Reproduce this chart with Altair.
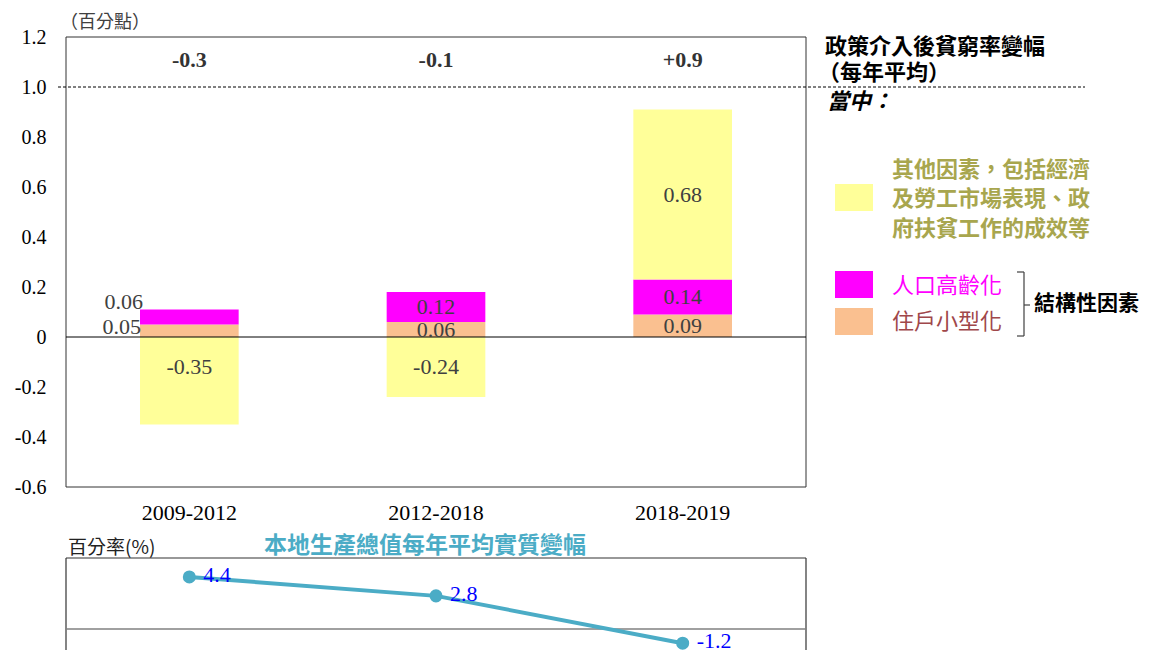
import altair as alt
import pandas as pd

# ---------------- data ----------------
periods = ["2009-2012", "2012-2018", "2018-2019"]
household = [0.05, 0.06, 0.09]      # 住戶小型化
ageing = [0.06, 0.12, 0.14]         # 人口高齡化
other = [-0.35, -0.24, 0.68]        # 其他因素
totals = ["-0.3", "-0.1", "+0.9"]
gdp = [4.4, 2.8, -1.2]
gdp_labels = ["4.4", "2.8", "-1.2"]
components = ["住戶小型化", "人口高齡化", "其他因素"]
colors = ["#FAC090", "#FF00FF", "#FFFF99"]
y_ticks = [-0.6, -0.4, -0.2, 0, 0.2, 0.4, 0.6, 0.8, 1.0, 1.2]

rows = []
for i, p in enumerate(periods):
    for j, vals in enumerate([household, ageing, other]):
        rows.append({"period": p, "comp": components[j], "ord": j,
                     "value": vals[i], "label": f"{vals[i]:.2f}"})
df = pd.DataFrame(rows)
df_tot = pd.DataFrame({"period": periods, "total": totals})
df_gdp = pd.DataFrame({"period": periods, "gdp": gdp, "label": gdp_labels})
one = pd.DataFrame({"a": [0]})

SERIF = "Liberation Serif"
CJK = "Noto Sans CJK TC"

x_scale = alt.Scale(domain=periods, paddingInner=0.6, paddingOuter=0.3)
main_y = alt.Scale(domain=[-0.6, 1.2], range=[450, 0], nice=False, zero=False)
gdp_y = alt.Scale(domain=[-6, 6], range=[663, 521], nice=False, zero=False)
color_scale = alt.Scale(domain=components, range=colors)
X = alt.X("period:N", scale=x_scale, axis=None)
XL = alt.X("period:N", scale=x_scale, axis=None, bandPosition=0)
YM = alt.Y("mid:Q", scale=main_y, axis=None)

base = alt.Chart(df).transform_stack(
    stack="value", groupby=["period"], as_=["v0", "v1"],
    sort=[alt.SortField("ord", order="ascending")]
).transform_calculate(mid="(datum.v0 + datum.v1) / 2")

frame = alt.Chart(one).mark_rect(fill="transparent", stroke="#333333", strokeWidth=1).encode(
    x=alt.value(0), x2=alt.value(740), y=alt.value(0), y2=alt.value(450))

bars = base.mark_bar().encode(
    x=X,
    y=alt.Y("v0:Q", scale=main_y, title=None,
            axis=alt.Axis(values=y_ticks, domain=False, ticks=False, grid=False,
                          labelPadding=20, labelFont=SERIF, labelFontSize=20,
                          labelColor="#000000",
                          labelExpr="datum.value == 0 ? '0' : (datum.value < 0 ? '-' + format(-datum.value, '.1f') : format(datum.value, '.1f'))")),
    y2="v1:Q",
    color=alt.Color("comp:N", scale=color_scale, legend=None),
)

seg_txt = dict(font=SERIF, fontSize=22, color="#404040", baseline="middle")
seg_labels = base.mark_text(**seg_txt).encode(
    x=X, y=YM, text="label:N"
).transform_filter("datum.period != '2009-2012'")
lab_hh = base.mark_text(align="right", dy=-4, dx=1, **seg_txt).encode(
    x=XL, y=YM, text="label:N"
).transform_filter("datum.period == '2009-2012' && datum.ord == 0")
lab_ag = base.mark_text(align="right", dy=-15, dx=3, **seg_txt).encode(
    x=XL, y=YM, text="label:N"
).transform_filter("datum.period == '2009-2012' && datum.ord == 1")
lab_ot = base.mark_text(dy=-14, **seg_txt).encode(
    x=X, y=YM, text="label:N"
).transform_filter("datum.period == '2009-2012' && datum.ord == 2")

zero_line = alt.Chart(one).mark_rule(color="#000000", strokeWidth=1).encode(
    x=alt.value(0), x2=alt.value(740), y=alt.YDatum(0, scale=main_y, axis=None))
dash_line = alt.Chart(one).mark_rule(color="#000000", strokeWidth=1, strokeDash=[3, 2]).encode(
    x=alt.value(-8), x2=alt.value(1019), y=alt.YDatum(1.0, scale=main_y, axis=None))

tot_text = alt.Chart(df_tot).mark_text(font=SERIF, fontSize=22, fontWeight="bold",
                                       color="#333333", baseline="middle").encode(
    x=X, y=alt.value(23), text="total:N")
xlab = alt.Chart(df_tot).mark_text(font=SERIF, fontSize=22, color="#000000",
                                   baseline="middle").encode(
    x=X, y=alt.value(476), text="period:N")


def txt(s, x, y, size=22, color="#000000", weight="normal", align="left",
        font=CJK, style="normal"):
    return alt.Chart(one).mark_text(font=font, fontSize=size, color=color,
                                    fontWeight=weight, align=align, baseline="middle",
                                    fontStyle=style).encode(
        x=alt.value(x), y=alt.value(y), text=alt.value(s))


def box(x0, x1, y0, y1, color):
    return alt.Chart(one).mark_rect(color=color).encode(
        x=alt.value(x0), x2=alt.value(x1), y=alt.value(y0), y2=alt.value(y1))


def seg(x0, x1, y0, y1, color="#404040", w=1.2):
    return alt.Chart(one).mark_rule(color=color, strokeWidth=w).encode(
        x=alt.value(x0), x2=alt.value(x1), y=alt.value(y0), y2=alt.value(y1))


olive = "#A8A64E"
deco = [
    txt("（百分點）", -6, -14, size=18, color="#404040"),
    txt("政策介入後貧窮率變幅", 759, 10, weight="bold"),
    txt("（每年平均）", 752, 36, weight="bold"),
    txt("當中：", 761, 65, weight="bold", style="italic"),
    box(769, 807, 147, 174, colors[2]),
    box(769, 807, 234, 261, colors[1]),
    box(769, 807, 271, 298, colors[0]),
    txt("其他因素，包括經濟", 826, 133, color=olive, weight="bold"),
    txt("及勞工市場表現、政", 826, 162, color=olive, weight="bold"),
    txt("府扶貧工作的成效等", 826, 192, color=olive, weight="bold"),
    txt("人口高齡化", 826, 249, color="#FF00FF"),
    txt("住戶小型化", 826, 285, color="#A0474A"),
    seg(951, 958, 235, 235),
    seg(958, 958, 235, 299),
    seg(951, 958, 299, 299),
    seg(958, 964, 268, 268),
    txt("結構性因素", 968, 267, size=21, weight="bold"),
    txt("百分率(%)", 2, 511, size=19, color="#222222"),
    txt("本地生產總值每年平均實質變幅", 359, 509, size=23, color="#4BACC6",
        weight="bold", align="center"),
    seg(0, 740, 521, 521, "#333333", 1.2),
    seg(0, 0, 521, 620, "#333333", 1.2),
    seg(740, 740, 521, 620, "#333333", 1.2),
]

gdp_zero = alt.Chart(one).mark_rule(color="#808080", strokeWidth=1.5).encode(
    x=alt.value(0), x2=alt.value(740), y=alt.YDatum(0, scale=gdp_y, axis=None))
gdp_base = alt.Chart(df_gdp)
YG = alt.Y("gdp:Q", scale=gdp_y, axis=None)
gdp_line = gdp_base.mark_line(color="#4BACC6", strokeWidth=4).encode(x=X, y=YG)
gdp_pts = gdp_base.mark_circle(size=170, color="#4BACC6", opacity=1).encode(x=X, y=YG)
gdp_txt = gdp_base.mark_text(font=SERIF, fontSize=22, color="#0000FF", align="left",
                             baseline="middle", dx=14, dy=-2).encode(
    x=X, y=YG, text="label:N")

chart = alt.layer(
    frame, bars, zero_line, dash_line, seg_labels, lab_hh, lab_ag, lab_ot,
    tot_text, xlab, *deco, gdp_zero, gdp_line, gdp_pts, gdp_txt
).resolve_scale(y="independent").properties(
    width=740, height=613,
    padding={"left": 58, "top": 29, "right": 336, "bottom": 0},
    autosize=alt.AutoSizeParams(type="none"),
).configure_view(stroke=None)

chart.save("out.html", embed_options={"renderer": "svg", "actions": False})
